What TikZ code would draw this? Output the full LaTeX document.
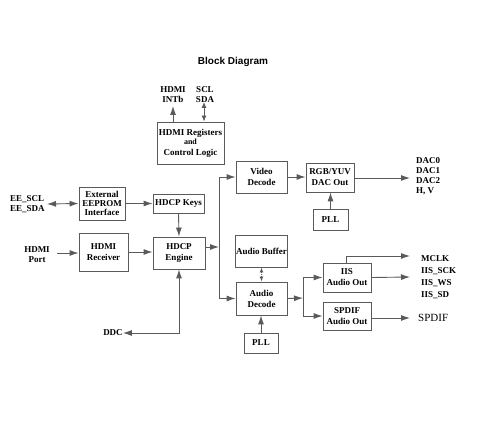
\documentclass[tikz,border=0pt]{standalone}
\usepackage{fontspec}
\setmainfont{Liberation Serif}
\newfontfamily\titlefont{Liberation Sans}
\usepackage{tikz}
\usetikzlibrary{arrows.meta}
\definecolor{linegray}{HTML}{5A5A5A}
\tikzset{
  block/.style  = {shape=rectangle, draw=linegray, line width=0.9pt,
                   align=center, inner sep=1pt, font=\bfseries\small},
  pin/.style    = {align=left, inner sep=0pt, font=\bfseries\fontsize{9}{10}\selectfont},
  arr/.style    = {draw=linegray, line width=0.9pt, -{Latex[length=9pt,width=6pt]}},
  dblarr/.style = {draw=linegray, line width=0.9pt, {Latex[length=9pt,width=6pt]}-{Latex[length=9pt,width=6pt]}},
  shortdbl/.style = {draw=linegray, line width=0.9pt, {Latex[length=6pt,width=5pt]}-{Latex[length=6pt,width=5pt]}}
}
\begin{document}
\begin{tikzpicture}
  [
    x = 1pt,
    y = -1pt,
    every node/.style = {font=\bfseries\small}
  ]
  \useasboundingbox (0,0) rectangle (480,425);
  \node [font=\titlefont\bfseries] (title) at (233,62) {Block Diagram};

  % blocks
  \node [block, minimum width=67, minimum height=42] (reg) at (190.5,143)
    {HDMI Registers\\[-2pt]{\footnotesize and}\\Control Logic};
  \node [block, minimum width=46, minimum height=33] (eeprom) at (102,203.5)
    {External\\[-2pt]EEPROM\\[-2pt]Interface};
  \node [block, minimum width=51, minimum height=19] (keys) at (178.5,203.5) {HDCP Keys};
  \node [block, minimum width=49, minimum height=38] (rcv) at (103.5,252) {HDMI\\Receiver};
  \node [block, minimum width=52, minimum height=32] (eng) at (179,253) {HDCP\\Engine};
  \node [block, minimum width=51, minimum height=32] (vdec) at (261.5,177) {Video\\Decode};
  \node [block, minimum width=48, minimum height=29] (dac) at (330,177.5) {RGB/YUV\\DAC Out};
  \node [block, minimum width=35, minimum height=21] (pllv) at (330.5,219.5) {PLL};
  \node [block, minimum width=51, minimum height=32] (abuf) at (261.5,251) {Audio Buffer};
  \node [block, minimum width=51, minimum height=33] (adec) at (261.5,298.5) {Audio\\Decode};
  \node [block, minimum width=34, minimum height=20] (plla) at (261,343) {PLL};
  \node [block, minimum width=48, minimum height=29] (iis) at (347,277.5) {IIS\\Audio Out};
  \node [block, minimum width=48, minimum height=28] (spdif) at (347,316) {SPDIF\\Audio Out};

  % pins
  \node [pin, align=center] (intb) at (173,95) {HDMI\\INTb};
  \node [pin, align=center] (sda) at (205,95) {SCL\\SDA};
  \node [pin, anchor=west] (ee) at (10,204) {EE\_SCL\\EE\_SDA};
  \node [pin, align=center] (port) at (37,255) {HDMI\\Port};
  \node [pin] (ddc) at (113,333) {DDC};
  \node [pin, anchor=west] (dacs) at (416,176) {DAC0\\DAC1\\DAC2\\H, V};
  \node [pin, anchor=west] (mclk) at (421,259) {MCLK};
  \node [pin, anchor=north west, font=\bfseries\fontsize{9}{12}\selectfont] (iiss) at (421,267)
    {IIS\_SCK\\IIS\_WS\\IIS\_SD};
  \node [pin, anchor=west, font=\fontsize{11}{12}\selectfont] (spd) at (418,318) {SPDIF};

  \coordinate (intbend) at (173,106);
  \coordinate (sdaend) at (204,102);
  \coordinate (eeend) at (47,204);
  \coordinate (portend) at (57,253);
  \coordinate (bus) at (219,247);
  \coordinate (abus) at (303,298);
  \coordinate (dacend) at (410,178);
  \coordinate (mclkend) at (410,256);
  \coordinate (iisend) at (410,277);
  \coordinate (spdend) at (410,318);

  % connectors
  \draw [arr] (reg.north -| intbend) -- (intbend);
  \draw [shortdbl] (reg.north -| sdaend) -- (sdaend);
  \draw [dblarr] (eeend) -- (eeprom.west);
  \draw [arr] (eeprom.east |- keys) -- (keys.west);
  \draw [arr] (keys.south) -- (eng.north);
  \draw [arr] (portend) -- (rcv.west |- portend);
  \draw [arr] (rcv.east) -- (eng.west |- rcv.east);
  \draw [dblarr] (ddc.east) -| (eng.south);
  \draw [arr] (eng.east |- bus) -- (bus);
  \draw [arr] (bus) |- (vdec.west);
  \draw [arr] (bus) |- (adec.west);
  \draw [arr] (vdec.east) -- (dac.west |- vdec.east);
  \draw [arr] (dac.east |- dacend) -- (dacend);
  \draw [arr] (pllv.north) -- (dac.south -| pllv.north);
  \draw [draw=linegray, line width=0.9pt, densely dotted,
         {Latex[length=5pt,width=4pt]}-{Latex[length=5pt,width=4pt]}] (abuf.south) -- (adec.north);
  \draw [arr] (plla.north) -- (adec.south -| plla.north);
  \draw [arr] (adec.east) -- (abus);
  \draw [arr] (abus) |- (iis.west);
  \draw [arr] (abus) |- (spdif.west);
  \draw [arr] ([xshift=-1pt]iis.north) |- (mclkend);
  \draw [arr] (iis.east) -- (iisend);
  \draw [arr] (spdif.east |- spdend) -- (spdend);
\end{tikzpicture}
\end{document}
